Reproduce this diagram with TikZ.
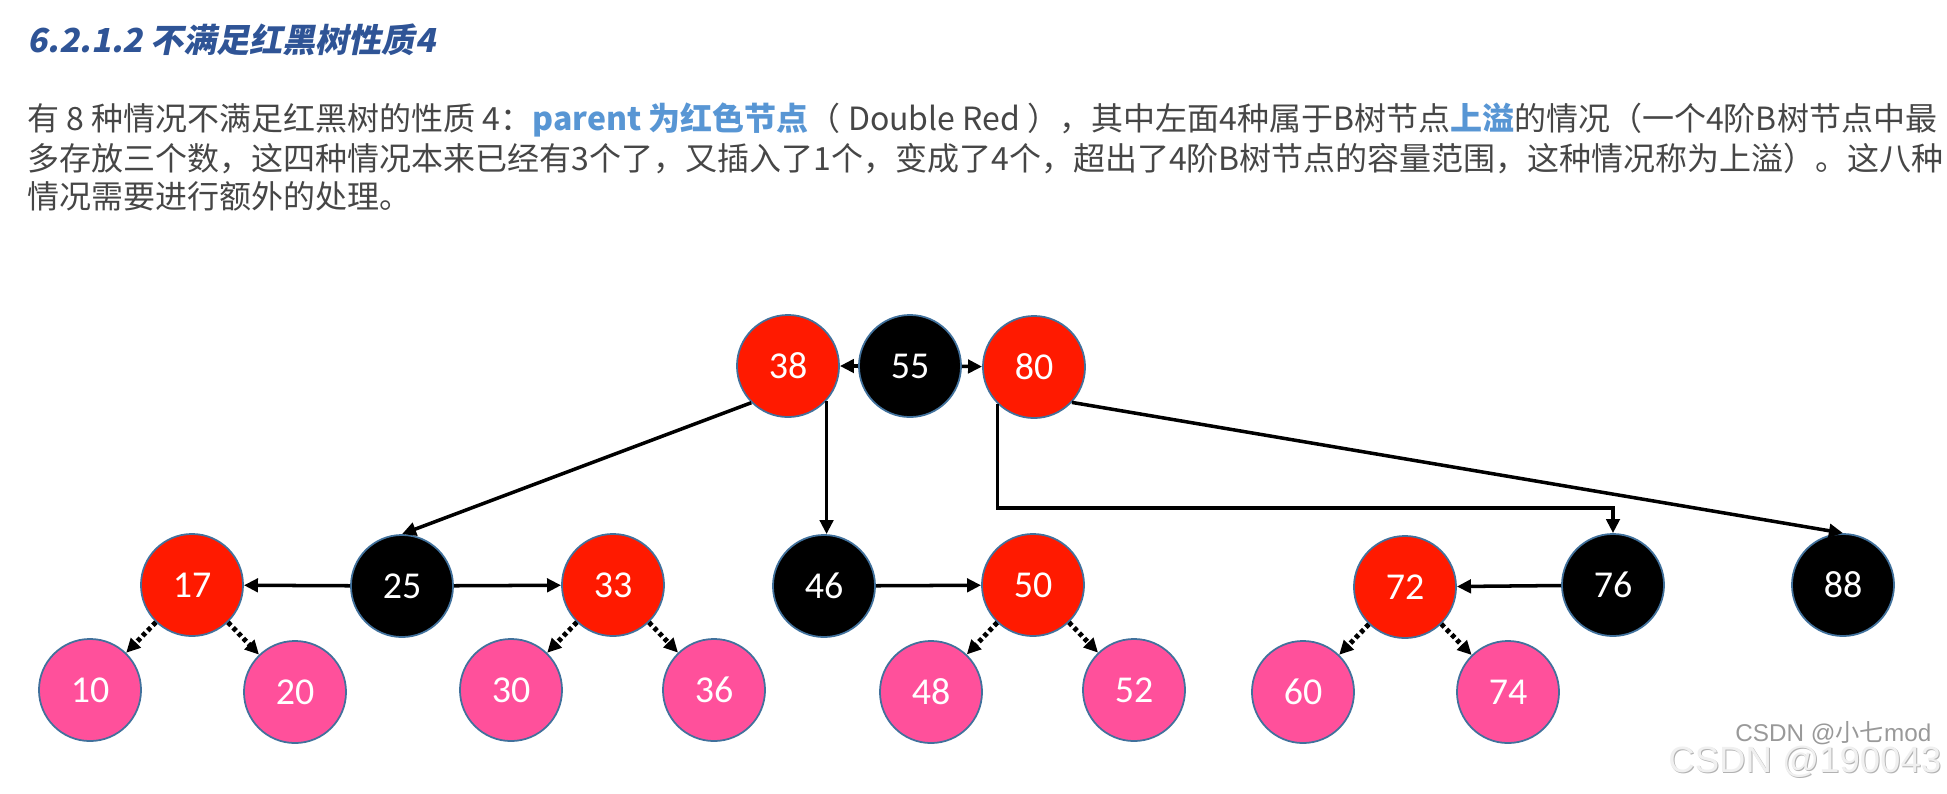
\documentclass[tikz,border=0pt]{standalone}
\usepackage{fontspec}
\usetikzlibrary{arrows.meta}
\newfontfamily\cjk{Noto Sans CJK SC}
\newfontfamily\cjkslant[FakeSlant=0.2]{Noto Sans CJK SC}
\newfontfamily\numfont{Carlito}
\newfontfamily\markfont{Liberation Sans}
\definecolor{rbred}{RGB}{255,26,0}
\definecolor{rbpink}{RGB}{255,80,155}
\definecolor{rbedge}{RGB}{65,113,156}
\definecolor{titleblue}{RGB}{47,84,150}
\definecolor{bodygrey}{RGB}{70,70,70}
\definecolor{hlblue}{RGB}{88,150,212}
\begin{document}
\begin{tikzpicture}[x=0.01cm, y=-0.01cm,
	treenode/.style={circle, minimum size=1.02cm, inner sep=0pt, draw=rbedge, line width=0.5pt, text=white, font=\numfont\fontsize{10.8}{12}\selectfont},
	rednode/.style={treenode, fill=rbred},
	blacknode/.style={treenode, fill=black},
	pinknode/.style={treenode, fill=rbpink},
	arr/.style={-{Triangle[length=4pt,width=3.8pt]}, line width=1pt},
	dotarr/.style={arr, line width=1.4pt, dash pattern=on 1.2pt off 0.9pt},
	textline/.style={anchor=west, inner sep=0pt, text=bodygrey, font=\cjk\fontsize{9.1}{11}\selectfont}]
	\useasboundingbox (0,0) rectangle (1947,793);
	\node[anchor=west, inner sep=0pt, text=titleblue, font=\cjkslant\bfseries\fontsize{9.4}{11}\selectfont] (title) at (27,40) {6.2.1.2 不满足红黑树性质4};
	\node[textline] (line1) at (27,120) {有 8 种情况不满足红黑树的性质 4：{\bfseries\color{hlblue}parent 为红色节点}（ Double Red ），其中左面4种属于B树节点{\bfseries\color{hlblue}上溢}的情况（一个4阶B树节点中最};
	\node[textline] (line2) at (27,159) {多存放三个数，这四种情况本来已经有3个了，又插入了1个，变成了4个，超出了4阶B树节点的容量范围，这种情况称为上溢）。这八种};
	\node[textline] (line3) at (27,196) {情况需要进行额外的处理。};
	\node[rednode] (n38) at (788,366) {38};
	\node[blacknode] (n55) at (910,366) {55};
	\node[rednode] (n80) at (1034,367) {80};
	\node[rednode] (n17) at (192,585) {17};
	\node[blacknode] (n25) at (402,586) {25};
	\node[rednode] (n33) at (613,585) {33};
	\node[blacknode] (n46) at (824,586) {46};
	\node[rednode] (n50) at (1033,585) {50};
	\node[rednode] (n72) at (1405,587) {72};
	\node[blacknode] (n76) at (1613,585) {76};
	\node[blacknode] (n88) at (1843,585) {88};
	\node[pinknode] (n10) at (90,690) {10};
	\node[pinknode] (n20) at (295,692) {20};
	\node[pinknode] (n30) at (511,690) {30};
	\node[pinknode] (n36) at (714,690) {36};
	\node[pinknode] (n48) at (931,692) {48};
	\node[pinknode] (n52) at (1134,690) {52};
	\node[pinknode] (n60) at (1303,692) {60};
	\node[pinknode] (n74) at (1508,692) {74};
	\coordinate (bend) at (998,508);
	\draw[arr] (n55) -- (n38);
	\draw[arr] (n55) -- (n80);
	\draw[arr] (n38.-135) -- (n25.north);
	\draw[arr] (n38.-42) -- (n38.-42 |- n46.north);
	\draw[arr] (n80.-135) -- (n80.-135 |- bend) -| (n76.north);
	\draw[arr] (n80.-43) -- (n88.north);
	\draw[arr] (n25) -- (n17);
	\draw[arr] (n25) -- (n33);
	\draw[arr] (n46) -- (n50);
	\draw[arr] (n76) -- (n72);
	\draw[dotarr] (n17) -- (n10);
	\draw[dotarr] (n17) -- (n20);
	\draw[dotarr] (n33) -- (n30);
	\draw[dotarr] (n33) -- (n36);
	\draw[dotarr] (n50) -- (n48);
	\draw[dotarr] (n50) -- (n52);
	\draw[dotarr] (n72) -- (n60);
	\draw[dotarr] (n72) -- (n74);
	\node[anchor=east, inner sep=0pt, text=gray!80, font=\markfont\fontsize{6.9}{8}\selectfont] (mark1) at (1932,733) {CSDN @{\cjk 小七}mod};
	\node[anchor=east, inner sep=0pt, text=gray!60, font=\markfont\fontsize{10.4}{12}\selectfont] (mark2shadow) at (1943,763) {CSDN @190043};
	\node[anchor=east, inner sep=0pt, text=gray!12, font=\markfont\fontsize{10.4}{12}\selectfont] (mark2) at (1942,762) {CSDN @190043};
\end{tikzpicture}
\end{document}
